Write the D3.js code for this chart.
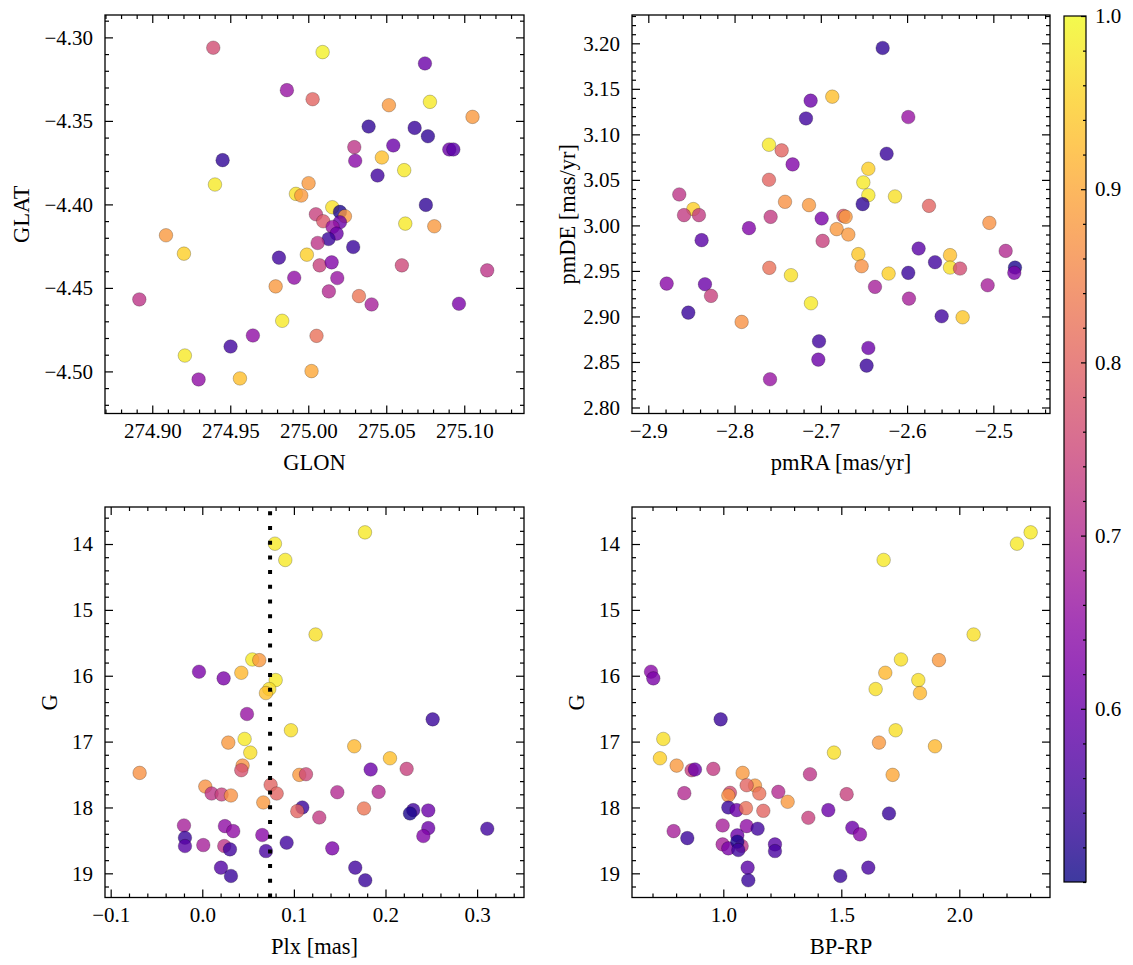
<!DOCTYPE html>
<html><head><meta charset="utf-8">
<script src="https://cdn.jsdelivr.net/npm/d3@7"></script>
<style>
html,body{margin:0;padding:0;background:#fff;}
svg{display:block;font-family:"Liberation Serif","DejaVu Serif",serif;}
</style></head>
<body><svg id="c" width="1133" height="965"></svg>
<script>
// ---------- DATA ----------
// Panel 1: GLON / GLAT
const glon = [274.9391,275.0092,275.0748,274.9863,275.0028,275.0517,275.0780,275.1053,275.0387,275.0682,275.0767,275.0295,275.0545,275.0904,275.0930,275.0301,275.0472,274.9451,275.0615,275.0444,274.9402,275.0002,274.9921,274.9955,275.0154,275.0754,275.0203,275.0049,275.0235,275.0096,275.0203,275.0156,275.0622,275.0808,275.0182,275.0130,275.0060,274.9088,274.9203,275.0288,274.9812,274.9991,275.0073,275.0150,275.0600,275.1147,274.9910,275.0186,274.9791,275.0132,275.0325,275.0406,275.0966,274.8917,274.9833,274.9645,275.0053,274.9502,274.9209,274.9297,274.9562,275.0021];
const glat = [-4.3062,-4.3088,-4.3156,-4.3316,-4.3370,-4.3406,-4.3386,-4.3476,-4.3534,-4.3542,-4.3592,-4.3657,-4.3647,-4.3671,-4.3671,-4.3739,-4.3719,-4.3735,-4.3795,-4.3827,-4.3881,-4.3873,-4.3937,-4.3947,-4.4017,-4.4003,-4.4045,-4.4059,-4.4071,-4.4101,-4.4107,-4.4135,-4.4115,-4.4131,-4.4175,-4.4207,-4.4231,-4.4185,-4.4295,-4.4255,-4.4319,-4.4301,-4.4365,-4.4347,-4.4365,-4.4395,-4.4439,-4.4441,-4.4491,-4.4521,-4.4549,-4.4599,-4.4595,-4.4569,-4.4697,-4.4785,-4.4787,-4.4851,-4.4905,-4.5048,-4.5042,-4.4998];
const probPos = [0.76,0.99,0.60,0.66,0.80,0.88,0.98,0.88,0.53,0.54,0.53,0.72,0.60,0.60,0.58,0.64,0.93,0.53,0.98,0.55,0.98,0.88,0.97,0.88,0.97,0.53,0.51,0.74,0.88,0.78,0.60,0.66,0.98,0.88,0.60,0.54,0.72,0.88,0.95,0.54,0.55,0.95,0.74,0.63,0.75,0.72,0.65,0.66,0.88,0.70,0.83,0.68,0.62,0.72,0.98,0.65,0.82,0.55,0.98,0.65,0.93,0.90];

// Panel 2: pmRA / pmDE
const pmra = [-2.6283,-2.6867,-2.7118,-2.7172,-2.5986,-2.7601,-2.7454,-2.7327,-2.6237,-2.6449,-2.7601,-2.6507,-2.6449,-2.6140,-2.6515,-2.8641,-2.8478,-2.8586,-2.8413,-2.7415,-2.7137,-2.5746,-2.7582,-2.6990,-2.6739,-2.6712,-2.7833,-2.6816,-2.6681,-2.5046,-2.8382,-2.6979,-2.5866,-2.6565,-2.5502,-2.4857,-2.6527,-2.5676,-2.5502,-2.5386,-2.4749,-2.4757,-2.7597,-2.7346,-2.6214,-2.5986,-2.8787,-2.8343,-2.8273,-2.6372,-2.5066,-2.5978,-2.8536,-2.7114,-2.7918,-2.5599,-2.5356,-2.7021,-2.6449,-2.7029,-2.6469,-2.7589];
const pmde = [3.1949,3.1414,3.1370,3.1175,3.1190,3.0886,3.0824,3.0670,3.0787,3.0622,3.0501,3.0472,3.0332,3.0318,3.0234,3.0340,3.0179,3.0113,3.0113,3.0259,3.0223,3.0215,3.0094,3.0076,3.0105,3.0094,2.9970,2.9959,2.9900,3.0028,2.9838,2.9830,2.9746,2.9684,2.9673,2.9720,2.9552,2.9596,2.9537,2.9526,2.9537,2.9479,2.9534,2.9453,2.9471,2.9479,2.9361,2.9354,2.9226,2.9325,2.9343,2.9196,2.9042,2.9145,2.8940,2.9002,2.8991,2.8727,2.8654,2.8526,2.8460,2.8310];
const probPm = [0.53,0.93,0.60,0.55,0.66,0.98,0.80,0.63,0.54,0.95,0.80,0.98,0.98,0.97,0.53,0.72,0.95,0.73,0.73,0.87,0.88,0.80,0.73,0.62,0.78,0.88,0.63,0.88,0.88,0.87,0.58,0.74,0.58,0.94,0.93,0.70,0.87,0.55,0.97,0.76,0.51,0.62,0.82,0.97,0.95,0.54,0.64,0.60,0.74,0.68,0.68,0.68,0.54,0.98,0.87,0.55,0.94,0.55,0.60,0.60,0.54,0.66];

// Panel 3: Plx / G
const plx = [0.1776,0.0793,0.0906,0.1237,0.0546,0.0622,-0.0036,0.0233,0.0426,0.0801,0.0731,0.0695,0.0488,0.2515,0.0968,0.0284,0.0462,0.0524,0.1659,0.2049,-0.0684,0.0440,0.0426,0.1059,0.1132,0.1838,0.2231,0.0033,0.0102,0.0211,0.0313,0.0746,0.0812,0.0666,0.1474,0.1925,0.1092,0.1037,0.1277,0.1765,0.2303,0.2267,0.2467,-0.0200,0.0247,0.0338,0.0655,0.2467,0.2413,0.3111,-0.0189,-0.0189,0.0011,0.0240,0.0302,0.0695,0.0921,0.1419,0.0204,0.0313,0.1670,0.1779];
const gPlx = [13.823,13.995,14.242,15.374,15.753,15.763,15.939,16.040,15.955,16.066,16.202,16.263,16.581,16.662,16.828,17.015,16.960,17.167,17.071,17.253,17.475,17.364,17.434,17.505,17.495,17.424,17.414,17.682,17.788,17.803,17.818,17.657,17.788,17.924,17.768,17.763,18.000,18.056,18.152,18.015,18.040,18.091,18.045,18.273,18.283,18.359,18.419,18.313,18.434,18.323,18.460,18.586,18.571,18.586,18.636,18.662,18.535,18.621,18.914,19.040,18.914,19.106];
const probPlx = [0.98,0.98,0.98,0.97,0.98,0.88,0.62,0.62,0.92,0.98,0.97,0.93,0.66,0.54,0.97,0.88,0.98,0.97,0.92,0.93,0.87,0.87,0.77,0.88,0.75,0.60,0.74,0.87,0.72,0.74,0.87,0.80,0.80,0.88,0.70,0.70,0.54,0.80,0.73,0.83,0.55,0.51,0.60,0.68,0.65,0.65,0.64,0.60,0.63,0.55,0.54,0.58,0.68,0.72,0.55,0.56,0.55,0.62,0.57,0.54,0.55,0.54];
const plxCut = 0.074;

// Panel 4: BP-RP / G
const bprp = [2.3023,2.2444,1.6794,2.0607,1.7528,1.9138,0.6935,0.7034,1.6864,1.8263,1.6455,1.8333,0.9887,1.7302,0.7458,1.6596,1.8969,1.4689,0.7316,0.8023,0.8658,0.8799,0.9576,1.0819,1.7175,1.3672,1.1342,1.0989,1.1525,1.0282,1.0212,1.2331,1.5226,0.8347,1.2726,1.0212,1.0565,1.0960,1.1695,1.3602,1.4449,1.7020,0.9972,1.0989,1.1455,1.5466,1.5791,0.7895,0.8475,1.0593,0.9972,1.0212,1.0777,1.0593,1.0636,1.2189,1.2189,1.1031,1.1059,1.4958,1.6144];
const gCmd = [13.823,13.995,14.242,15.374,15.753,15.763,15.939,16.040,15.955,16.066,16.202,16.263,16.662,16.828,16.960,17.015,17.071,17.167,17.253,17.364,17.434,17.424,17.414,17.475,17.505,17.495,17.667,17.662,17.788,17.778,17.818,17.763,17.798,17.783,17.914,18.000,18.040,18.010,18.051,18.157,18.040,18.091,18.273,18.283,18.323,18.308,18.409,18.359,18.465,18.424,18.561,18.621,18.586,18.520,18.646,18.561,18.662,18.914,19.106,19.040,18.914];
const probCmd = [0.98,0.98,0.98,0.97,0.97,0.88,0.64,0.62,0.92,0.97,0.97,0.92,0.54,0.97,0.97,0.88,0.92,0.97,0.95,0.88,0.74,0.60,0.73,0.88,0.90,0.72,0.88,0.80,0.82,0.76,0.87,0.70,0.74,0.70,0.88,0.54,0.60,0.82,0.80,0.74,0.60,0.54,0.68,0.65,0.55,0.60,0.64,0.68,0.54,0.60,0.68,0.62,0.72,0.51,0.55,0.58,0.56,0.58,0.54,0.54,0.56];

// Tick labels
const ticksGlon = [274.90,274.95,275.00,275.05,275.10];
const ticksGlat = [-4.30,-4.35,-4.40,-4.45,-4.50];
const ticksPmra = [-2.9,-2.8,-2.7,-2.6,-2.5];
const ticksPmde = [2.80,2.85,2.90,2.95,3.00,3.05,3.10,3.15,3.20];
const ticksPlx = [-0.1,0.0,0.1,0.2,0.3];
const ticksG = [14,15,16,17,18,19];
const ticksBprp = [1.0,1.5,2.0];
const ticksProb = [0.6,0.7,0.8,0.9,1.0];
const probMin = 0.50, probMax = 1.0;

// ---------- DRAW ----------
const svg = d3.select("#c");
const color = d3.scaleSequential(d3.interpolatePlasma).domain([probMin, probMax]);
const TICKFS = 21, LABFS = 22.5;

function minorTicks(domain, step, majors){
  const lo = Math.min(domain[0],domain[1]), hi = Math.max(domain[0],domain[1]);
  const out = [];
  for(let i=Math.ceil(lo/step-1e-9); i<=Math.floor(hi/step+1e-9); i++){
    const v = +(i*step).toFixed(6);
    if(!majors.some(m=>Math.abs(m-v)<step/10)) out.push(v);
  }
  return out;
}

function panel(cfg){
  const {x, y, L, R, T, B} = cfg;
  const g = svg.append("g");
  const styleAxis = sel => {
    sel.select(".domain").remove();
    sel.selectAll(".tick line").attr("stroke","#000").attr("stroke-width",1.2);
    sel.selectAll("text").attr("font-size",TICKFS).attr("fill","#000").attr("font-family","Liberation Serif, DejaVu Serif, serif");
  };
  const xmin = minorTicks(x.domain(), cfg.xMinor, cfg.xTicks);
  const ymin = minorTicks(y.domain(), cfg.yMinor, cfg.yTicks);
  g.append("g").attr("transform",`translate(0,${B})`)
    .call(d3.axisBottom(x).tickValues(cfg.xTicks).tickFormat(d3.format(cfg.xFmt)).tickSize(-8).tickPadding(9.5))
    .call(styleAxis);
  g.append("g").attr("transform",`translate(0,${B})`)
    .call(d3.axisBottom(x).tickValues(xmin).tickFormat("").tickSize(-4)).call(styleAxis);
  g.append("g").attr("transform",`translate(0,${T})`)
    .call(d3.axisTop(x).tickValues(cfg.xTicks).tickFormat("").tickSize(-8)).call(styleAxis);
  g.append("g").attr("transform",`translate(0,${T})`)
    .call(d3.axisTop(x).tickValues(xmin).tickFormat("").tickSize(-4)).call(styleAxis);
  g.append("g").attr("transform",`translate(${L},0)`)
    .call(d3.axisLeft(y).tickValues(cfg.yTicks).tickFormat(d3.format(cfg.yFmt)).tickSize(-8).tickPadding(12))
    .call(styleAxis);
  g.append("g").attr("transform",`translate(${L},0)`)
    .call(d3.axisLeft(y).tickValues(ymin).tickFormat("").tickSize(-4)).call(styleAxis);
  g.append("g").attr("transform",`translate(${R},0)`)
    .call(d3.axisRight(y).tickValues(cfg.yTicks).tickFormat("").tickSize(-8)).call(styleAxis);
  g.append("g").attr("transform",`translate(${R},0)`)
    .call(d3.axisRight(y).tickValues(ymin).tickFormat("").tickSize(-4)).call(styleAxis);

  const cid = "clip"+cfg.id;
  svg.append("clipPath").attr("id",cid).append("rect").attr("x",L).attr("y",T).attr("width",R-L).attr("height",B-T);
  const pg = svg.append("g").attr("clip-path",`url(#${cid})`);
  pg.selectAll("circle").data(d3.range(cfg.xs.length)).join("circle")
    .attr("cx",i=>x(cfg.xs[i])).attr("cy",i=>y(cfg.ys[i])).attr("r",6.8)
    .attr("fill",i=>color(cfg.ps[i])).attr("fill-opacity",0.8)
    .attr("stroke","#000").attr("stroke-opacity",0.45).attr("stroke-width",0.5);

  svg.append("rect").attr("x",L).attr("y",T).attr("width",R-L).attr("height",B-T)
    .attr("fill","none").attr("stroke","#000").attr("stroke-width",1.3);
  svg.append("text").attr("x",(L+R)/2).attr("y",B+56).attr("text-anchor","middle")
    .attr("font-size",LABFS).text(cfg.xLabel);
  svg.append("text").attr("transform",`translate(${cfg.yLabX},${(T+B)/2}) rotate(-90)`)
    .attr("text-anchor","middle").attr("dy","0.35em").attr("font-size",LABFS).text(cfg.yLabel);
}

const rowTop = [15, 413.5], rowBot = [507, 897.5];
const colL = [105, 632], colR = [524, 1050];

panel({id:1, x:d3.scaleLinear([274.8697,275.1383],[colL[0],colR[0]]), y:d3.scaleLinear([-4.5252,-4.2866],[rowTop[1],rowTop[0]]),
  L:colL[0],R:colR[0],T:rowTop[0],B:rowTop[1], xTicks:ticksGlon, yTicks:ticksGlat, xMinor:0.01, yMinor:0.01,
  xFmt:".2f", yFmt:".2f", xs:glon, ys:glat, ps:probPos, xLabel:"GLON", yLabel:"GLAT", yLabX:21});

panel({id:2, x:d3.scaleLinear([-2.9189,-2.4343],[colL[1],colR[1]]), y:d3.scaleLinear([2.7934,3.2311],[rowTop[1],rowTop[0]]),
  L:colL[1],R:colR[1],T:rowTop[0],B:rowTop[1], xTicks:ticksPmra, yTicks:ticksPmde, xMinor:0.02, yMinor:0.01,
  xFmt:".1f", yFmt:".2f", xs:pmra, ys:pmde, ps:probPm, xLabel:"pmRA [mas/yr]", yLabel:"pmDE [mas/yr]", yLabX:567});

const x3 = d3.scaleLinear([-0.1062,0.3512],[colL[0],colR[0]]);
panel({id:3, x:x3, y:d3.scaleLinear([13.438,19.367],[rowBot[0],rowBot[1]]),
  L:colL[0],R:colR[0],T:rowBot[0],B:rowBot[1], xTicks:ticksPlx, yTicks:ticksG, xMinor:0.02, yMinor:0.2,
  xFmt:".1f", yFmt:"d", xs:plx, ys:gPlx, ps:probPlx, xLabel:"Plx [mas]", yLabel:"G", yLabX:49});

panel({id:4, x:d3.scaleLinear([0.6131,2.3843],[colL[1],colR[1]]), y:d3.scaleLinear([13.438,19.367],[rowBot[0],rowBot[1]]),
  L:colL[1],R:colR[1],T:rowBot[0],B:rowBot[1], xTicks:ticksBprp, yTicks:ticksG, xMinor:0.1, yMinor:0.2,
  xFmt:".1f", yFmt:"d", xs:bprp, ys:gCmd, ps:probCmd, xLabel:"BP-RP", yLabel:"G", yLabX:576});

// dotted vertical line (drawn above points)
svg.append("line").attr("x1",x3(plxCut)).attr("x2",x3(plxCut)).attr("y1",rowBot[0]).attr("y2",rowBot[1])
  .attr("stroke","#000").attr("stroke-width",4).attr("stroke-dasharray","4,10.7").attr("stroke-dashoffset",10.4);

// ---------- COLORBAR ----------
const cbL = 1064, cbR = 1086, cbT = 16, cbB = 882;
const cy = d3.scaleLinear([probMin, probMax],[cbB, cbT]);
const grad = svg.append("defs").append("linearGradient").attr("id","cbg").attr("x1",0).attr("y1",1).attr("x2",0).attr("y2",0);
d3.range(0,1.0001,0.05).forEach(t => grad.append("stop").attr("offset",t).attr("stop-color",d3.interpolatePlasma(t)));
svg.append("rect").attr("x",cbL).attr("y",cbT).attr("width",cbR-cbL).attr("height",cbB-cbT).attr("fill","url(#cbg)").attr("fill-opacity",0.8);
const cbAxis = svg.append("g").attr("transform",`translate(${cbR},0)`)
  .call(d3.axisRight(cy).tickValues(ticksProb).tickFormat(d3.format(".1f")).tickSize(-5).tickPadding(9));
cbAxis.select(".domain").remove();
cbAxis.selectAll(".tick line").attr("stroke","#000").attr("stroke-width",1.2);
cbAxis.selectAll("text").attr("font-size",TICKFS).attr("fill","#000").attr("font-family","Liberation Serif, DejaVu Serif, serif");
const cbMin = svg.append("g").attr("transform",`translate(${cbR},0)`)
  .call(d3.axisRight(cy).tickValues(minorTicks(cy.domain(),0.02,ticksProb)).tickFormat("").tickSize(-3));
cbMin.select(".domain").remove();
cbMin.selectAll(".tick line").attr("stroke","#000").attr("stroke-width",1.2);
svg.append("rect").attr("x",cbL).attr("y",cbT).attr("width",cbR-cbL).attr("height",cbB-cbT)
  .attr("fill","none").attr("stroke","#000").attr("stroke-width",1.2);
</script></body></html>
